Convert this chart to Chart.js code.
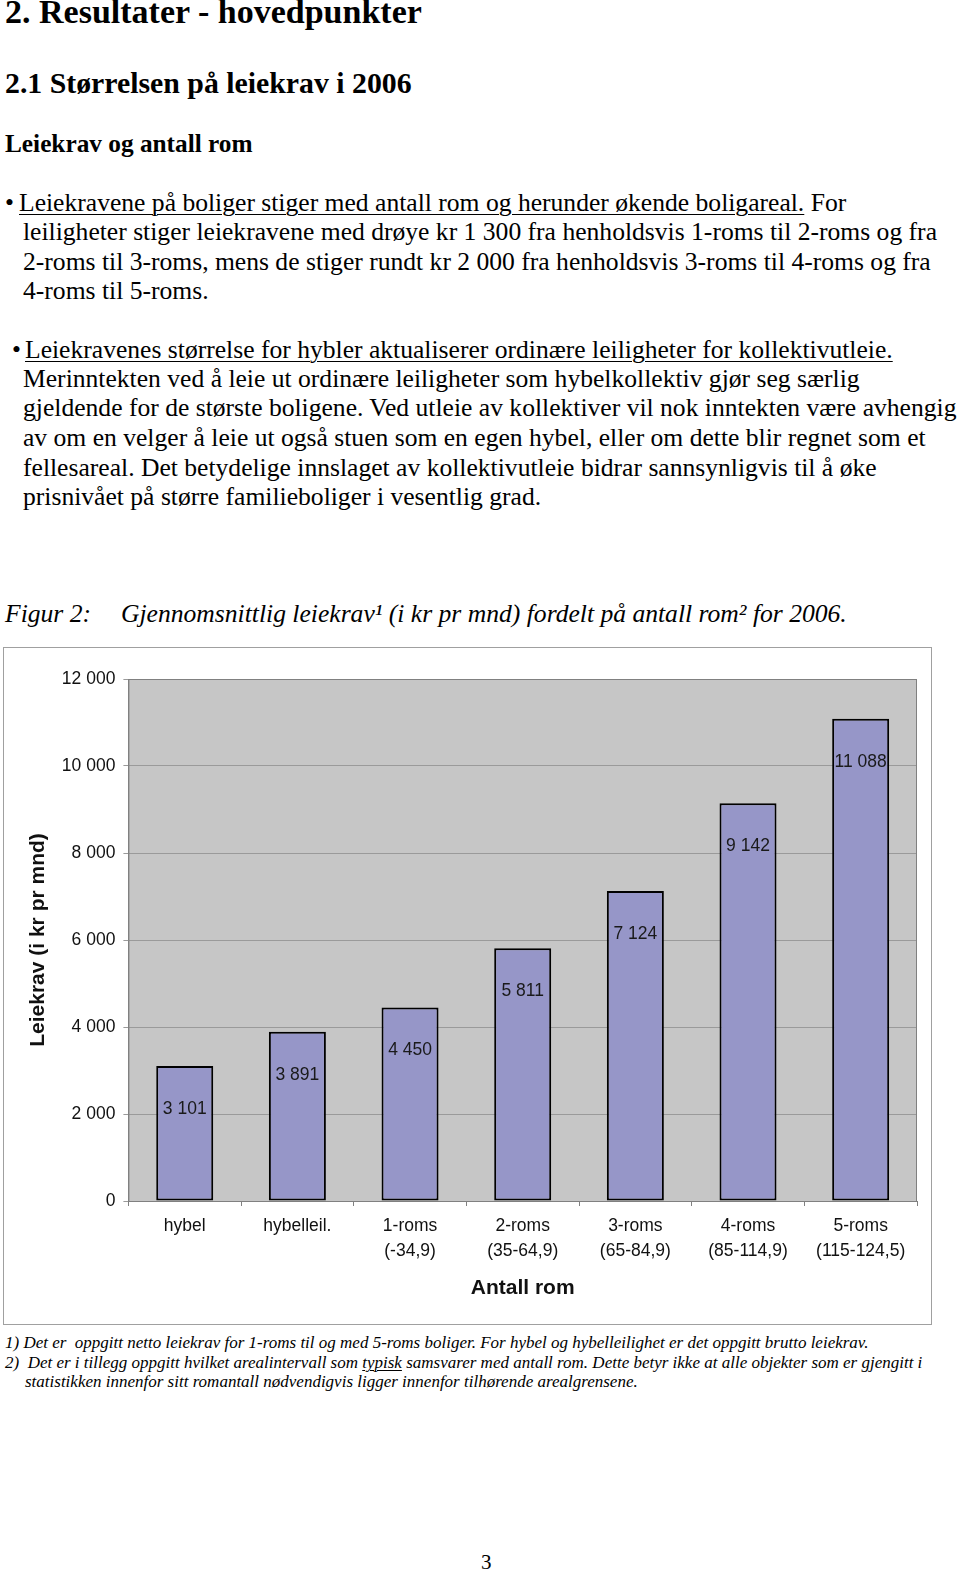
<!DOCTYPE html>
<html lang="no">
<head>
<meta charset="UTF-8">
<title>Resultater - hovedpunkter</title>
<script src="https://cdn.jsdelivr.net/npm/chart.js"></script>
<style>
  body {
    margin: 0;
    width: 960px;
    height: 1573px;
    position: relative;
    overflow: hidden;
    background: #fff;
    color: #000;
    font-family: 'Liberation Serif', 'Times New Roman', serif;
  }
  .ln {
    position: absolute;
    white-space: pre;
    line-height: 1;
  }
  .h1 { font-size: 34px; font-weight: bold; }
  .h2 { font-size: 29.8px; font-weight: bold; }
  .h3 { font-size: 25.3px; font-weight: bold; }
  .tx { font-size: 25.6px; }
  .cap { font-size: 25.6px; font-style: italic; }
  .fn { font-size: 17px; font-style: italic; }
  u { text-decoration-thickness: 1px; text-underline-offset: 3px; }
  .fn u { text-underline-offset: 2px; }
  #frame {
    position: absolute;
    left: 3px;
    top: 647px;
    width: 929px;
    height: 678px;
    box-sizing: border-box;
    border: 1px solid #a0a0a0;
  }
  #box { position: relative; width: 927px; height: 676px; }
</style>
</head>
<body>
<div class="ln h1" style="left:5px; top:-5.5px">2. Resultater - hovedpunkter</div>
<div class="ln h2" style="left:5px; top:68px">2.1 Størrelsen på leiekrav i 2006</div>
<div class="ln h3" style="left:5px; top:130.8px">Leiekrav og antall rom</div>

<div class="ln tx" style="left:5px; top:189.6px">•</div>
<div class="ln tx" style="left:19px; top:189.6px"><u>Leiekravene på boliger stiger med antall rom og herunder økende boligareal.</u> For</div>
<div class="ln tx" style="left:23px; top:219.1px">leiligheter stiger leiekravene med drøye kr 1 300 fra henholdsvis 1-roms til 2-roms og fra</div>
<div class="ln tx" style="left:23px; top:248.6px">2-roms til 3-roms, mens de stiger rundt kr 2 000 fra henholdsvis 3-roms til 4-roms og fra</div>
<div class="ln tx" style="left:23px; top:278.1px">4-roms til 5-roms.</div>

<div class="ln tx" style="left:12px; top:336.6px">•</div>
<div class="ln tx" style="left:25px; top:336.6px"><u>Leiekravenes størrelse for hybler aktualiserer ordinære leiligheter for kollektivutleie.</u></div>
<div class="ln tx" style="left:23px; top:365.6px">Merinntekten ved å leie ut ordinære leiligheter som hybelkollektiv gjør seg særlig</div>
<div class="ln tx" style="left:23px; top:395.1px">gjeldende for de største boligene. Ved utleie av kollektiver vil nok inntekten være avhengig</div>
<div class="ln tx" style="left:23px; top:425.1px">av om en velger å leie ut også stuen som en egen hybel, eller om dette blir regnet som et</div>
<div class="ln tx" style="left:23px; top:454.6px">fellesareal. Det betydelige innslaget av kollektivutleie bidrar sannsynligvis til å øke</div>
<div class="ln tx" style="left:23px; top:483.6px">prisnivået på større familieboliger i vesentlig grad.</div>

<div class="ln cap" style="left:5px; top:600.5px">Figur 2:</div>
<div class="ln cap" style="left:121px; top:600.5px">Gjennomsnittlig leiekrav¹ (i kr pr mnd) fordelt på antall rom² for 2006.</div>

<div id="frame"><div id="box"><canvas id="chart"></canvas></div></div>

<div class="ln fn" style="left:5px; top:1333.5px">1) Det er  oppgitt netto leiekrav for 1-roms til og med 5-roms boliger. For hybel og hybelleilighet er det oppgitt brutto leiekrav.</div>
<div class="ln fn" style="left:5px; top:1353.5px">2)  Det er i tillegg oppgitt hvilket arealintervall som <u>typisk</u> samsvarer med antall rom. Dette betyr ikke at alle objekter som er gjengitt i</div>
<div class="ln fn" style="left:25px; top:1372.5px">statistikken innenfor sitt romantall nødvendigvis ligger innenfor tilhørende arealgrensene.</div>

<div class="ln" style="left:481px; top:1552px; font-size:21px">3</div>

<script>
  const categories = [
    ['hybel'],
    ['hybelleil.'],
    ['1-roms', '(-34,9)'],
    ['2-roms', '(35-64,9)'],
    ['3-roms', '(65-84,9)'],
    ['4-roms', '(85-114,9)'],
    ['5-roms', '(115-124,5)']
  ];
  const leiekrav = [3101, 3891, 4450, 5811, 7124, 9142, 11088];
  const yMin = 0;
  const yMax = 12000;
  const yStep = 2000;

  const fmt = v => String(v).replace(/\B(?=(\d{3})+(?!\d))/g, ' ');

  Chart.defaults.font.family = "'Liberation Sans', Arial, sans-serif";
  Chart.defaults.color = '#111';

  const plotBg = {
    id: 'plotBg',
    beforeDraw(chart) {
      const {ctx, chartArea: a} = chart;
      ctx.save();
      ctx.fillStyle = '#c6c6c6';
      ctx.fillRect(a.left, a.top, a.right - a.left, a.bottom - a.top);
      ctx.restore();
    },
    afterDraw(chart) {
      const {ctx, chartArea: a} = chart;
      ctx.save();
      ctx.strokeStyle = '#808080';
      ctx.lineWidth = 1;
      ctx.strokeRect(a.left + 0.5, a.top + 0.5, a.right - a.left - 1, a.bottom - a.top);
      ctx.restore();
    }
  };

  const valueLabels = {
    id: 'valueLabels',
    afterDatasetsDraw(chart) {
      const {ctx} = chart;
      const meta = chart.getDatasetMeta(0);
      ctx.save();
      ctx.font = "17.5px 'Liberation Sans', Arial, sans-serif";
      ctx.fillStyle = '#1a1a1a';
      ctx.textAlign = 'center';
      ctx.textBaseline = 'middle';
      meta.data.forEach((bar, i) => {
        ctx.fillText(fmt(chart.data.datasets[0].data[i]), bar.x, bar.y + 43);
      });
      ctx.restore();
    }
  };

  new Chart(document.getElementById('chart'), {
    type: 'bar',
    data: {
      labels: categories,
      datasets: [{
        data: leiekrav,
        backgroundColor: '#9696c8',
        borderColor: '#000',
        borderWidth: 2,
        borderSkipped: false,
        barPercentage: 0.506,
        categoryPercentage: 1
      }]
    },
    options: {
      responsive: true,
      maintainAspectRatio: false,
      animation: false,
      layout: { padding: { top: 31, right: 14, left: 0, bottom: 0 } },
      plugins: {
        legend: { display: false },
        tooltip: { enabled: false }
      },
      scales: {
        x: {
          grid: {
            offset: true,
            drawOnChartArea: false,
            drawTicks: true,
            tickLength: 5,
            color: '#808080'
          },
          border: { display: true, color: '#808080' },
          ticks: {
            autoSkip: false,
            maxRotation: 0,
            padding: 7.5,
            color: '#111',
            font: { size: 17.5, lineHeight: '25px' }
          },
          title: {
            display: true,
            text: 'Antall rom',
            color: '#111',
            font: { size: 21, weight: 'bold' },
            padding: { top: 0, bottom: 23.4 }
          },
          afterFit(scale) { scale.height = 123; }
        },
        y: {
          min: yMin,
          max: yMax,
          ticks: {
            stepSize: yStep,
            padding: 8,
            color: '#111',
            font: { size: 17.5 },
            callback: v => fmt(v)
          },
          grid: {
            color: '#9a9a9a',
            tickLength: 5
          },
          border: { display: true, color: '#808080' },
          title: {
            display: true,
            text: 'Leiekrav (i kr pr mnd)',
            color: '#111',
            font: { size: 21, weight: 'bold' },
            padding: { top: 21.4, bottom: 0 }
          },
          afterFit(scale) { scale.width = 124.4; }
        }
      }
    },
    plugins: [plotBg, valueLabels]
  });
</script>
</body>
</html>
